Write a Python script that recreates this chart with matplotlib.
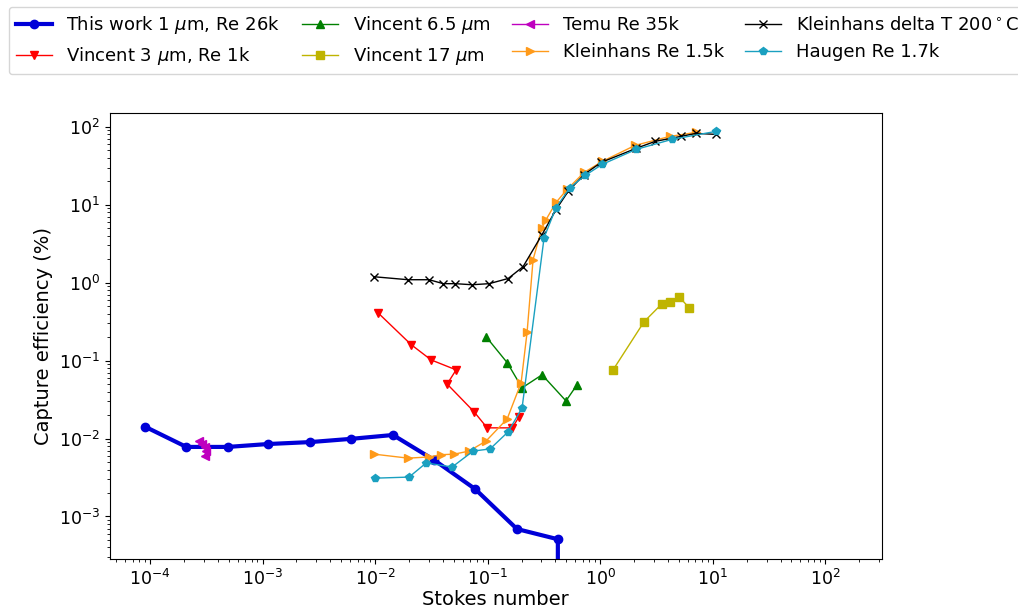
import matplotlib
matplotlib.use('Agg')
import matplotlib.pyplot as plt

# This work 1 um, Re 26k (last point is zero -> drops off the log axis)
work_st = [9.1e-5, 2.1e-4, 4.9e-4, 1.12e-3, 2.65e-3, 6.1e-3, 0.0144, 0.0334, 0.0773, 0.182, 0.42, 0.42]
work_ce = [0.0141, 0.0078, 0.0078, 0.0085, 0.0090, 0.0099, 0.0111, 0.0053, 0.00225, 6.9e-4, 5.1e-4, 0.0]

# Vincent 3 um, Re 1k
v3_st = [0.0106, 0.0209, 0.0314, 0.0524, 0.0436, 0.0757, 0.0989, 0.165, 0.19]
v3_ce = [0.41, 0.16, 0.102, 0.076, 0.050, 0.022, 0.0137, 0.0137, 0.019]

# Vincent 6.5 um
v65_st = [0.0968, 0.149, 0.202, 0.304, 0.496, 0.622]
v65_ce = [0.202, 0.094, 0.0447, 0.0657, 0.0304, 0.0489]

# Vincent 17 um
v17_st = [1.30, 2.45, 3.54, 4.17, 5.01, 6.15]
v17_ce = [0.076, 0.315, 0.537, 0.57, 0.66, 0.477]

# Temu Re 35k
temu_st = [2.7e-4, 2.9e-4, 3.05e-4, 3.15e-4, 3.05e-4]
temu_ce = [0.0093, 0.0085, 0.0078, 0.0069, 0.0060]

# Kleinhans Re 1.5k
kl_st = [0.0098, 0.0196, 0.0302, 0.0385, 0.0503, 0.0684, 0.0968, 0.149, 0.198, 0.224,
         0.253, 0.304, 0.33, 0.405, 0.507, 0.718, 1.04, 2.04, 4.17, 7.1]
kl_ce = [0.0063, 0.0056, 0.0058, 0.0062, 0.0063, 0.0069, 0.0093, 0.0179, 0.0518, 0.234,
         1.98, 5.09, 6.45, 10.7, 15.7, 25.9, 35.9, 57.7, 75.3, 84.7]

# Kleinhans delta T 200 C
kldt_st = [0.0098, 0.0196, 0.0302, 0.0402, 0.0513, 0.0727, 0.103, 0.152, 0.206, 0.304,
           0.405, 0.518, 0.718, 1.02, 2.08, 3.07, 5.22, 7.1, 10.7]
kldt_ce = [1.19, 1.09, 1.09, 0.97, 0.97, 0.94, 0.97, 1.13, 1.6, 4.14,
           8.67, 14.8, 24.4, 34.9, 52.8, 64.9, 75.3, 82.3, 79.8]

# Haugen Re 1.7k
hau_st = [0.01, 0.02, 0.0284, 0.0483, 0.0742, 0.105, 0.152, 0.202, 0.317, 0.405,
          0.539, 0.733, 1.04, 2.08, 4.34, 10.7]
hau_ce = [0.0031, 0.0032, 0.00486, 0.00431, 0.0069, 0.00735, 0.0122, 0.0247, 3.79, 9.2,
          16.6, 23.7, 32.9, 51.2, 68.9, 87.3]

fig = plt.figure(figsize=(10.18, 6.11), dpi=100)
ax = fig.add_axes([0.108, 0.085, 0.758, 0.73])

ax.plot(work_st, work_ce, 'o-', color='#0000d8', lw=3, ms=6, label=r'This work 1 $\mu$m, Re 26k')
ax.plot(v3_st, v3_ce, 'v-', color='red', lw=1, ms=6, label=r'Vincent 3 $\mu$m, Re 1k')
ax.plot(v65_st, v65_ce, '^-', color='green', lw=1, ms=6, label=r'Vincent 6.5 $\mu$m')
ax.plot(v17_st, v17_ce, 's-', color='#bfb400', lw=1, ms=6, label=r'Vincent 17 $\mu$m')
ax.plot(temu_st, temu_ce, '<-', color='#bf00bf', lw=1, ms=6, label='Temu Re 35k')
ax.plot(kl_st, kl_ce, '>-', color='#ff9a1a', lw=1, ms=6, label='Kleinhans Re 1.5k')
ax.plot(kldt_st, kldt_ce, 'x-', color='black', lw=1, ms=6, label=r'Kleinhans delta T 200$^\circ$C')
ax.plot(hau_st, hau_ce, 'p-', color='#1aa0c0', lw=1, ms=6, label='Haugen Re 1.7k')

ax.set_xscale('log')
ax.set_yscale('log')
ax.set_xlim(4.4e-5, 316)
ax.set_ylim(2.84e-4, 150)
ax.set_xlabel('Stokes number', fontsize=14, labelpad=1)
ax.set_ylabel('Capture efficiency (%)', fontsize=14)
ax.tick_params(labelsize=12.5)

fig.legend(loc='upper left', bbox_to_anchor=(0.005, 0.995), ncol=4, fontsize=13,
           handlelength=2, columnspacing=1.2, borderaxespad=0.2)

plt.savefig('out.png', dpi=100)
